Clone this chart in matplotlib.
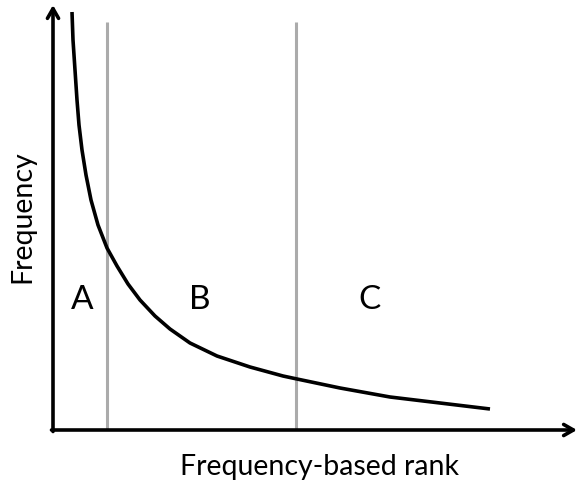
import matplotlib
matplotlib.use("Agg")
import matplotlib.pyplot as plt

# Schematic rank-frequency curve (rank units ~ pixels from origin)
rank = [19, 20, 22, 24, 26, 29, 33, 38, 45, 54, 64, 75, 87, 102, 117, 137, 164, 197, 230, 244, 287, 337, 387, 437]
freq = [418, 390, 360, 330, 305, 280, 255, 230, 205, 182, 164, 146, 130, 114, 101, 87, 74, 63, 54, 51, 42, 33, 27, 21]
boundaries = [54, 243]
region_labels = ["A", "B", "C"]
region_label_x = [29, 147, 317]
region_label_y = 130
x_max, y_max = 524, 425

plt.rcParams['font.family'] = ['Lato', 'DejaVu Sans']
fig = plt.figure(figsize=(5.79, 4.86), dpi=100)
ax = fig.add_axes([0, 0, 1, 1])
ax.set_xlim(-53, 526)
ax.set_ylim(-56, 430)
ax.axis('off')

for b in boundaries:
    ax.plot([b, b], [0, 408], color='#ABABAB', lw=2.2, solid_capstyle='butt', zorder=1)

ax.plot(rank, freq, color='black', lw=2.6, zorder=3, solid_capstyle='butt', solid_joinstyle='round')

arrow = dict(arrowstyle='->,head_length=0.7,head_width=0.4', lw=2.6, color='black', shrinkA=0, shrinkB=0)
ax.annotate('', xy=(x_max, 0), xytext=(-1.5, 0), arrowprops=arrow, zorder=4)
ax.annotate('', xy=(0, y_max), xytext=(0, -1.5), arrowprops=arrow, zorder=4)

for lab, lx in zip(region_labels, region_label_x):
    ax.text(lx, region_label_y, lab, fontsize=24, ha='center', va='center')

ax.text(267, -37, 'Frequency-based rank', fontsize=20.5, ha='center', va='center')
ax.text(-31, 213, 'Frequency', fontsize=20.5, ha='center', va='center', rotation=90)

fig.savefig('out.png', dpi=100)
